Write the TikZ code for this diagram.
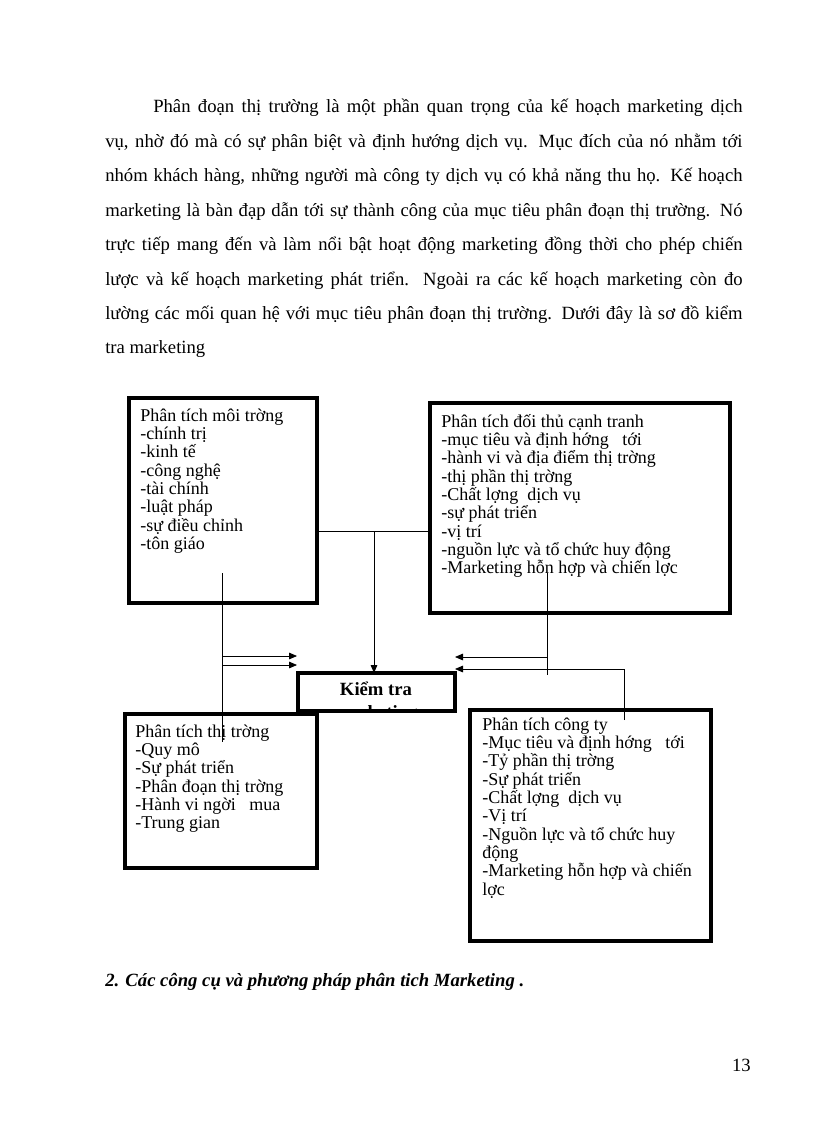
\documentclass[tikz,border=0pt]{standalone}
\usepackage{fontspec}
\setmainfont{Liberation Serif}
\usetikzlibrary{arrows.meta}
\begin{document}
\begin{tikzpicture}[x=0.75pt,y=-0.75pt,
  box/.style={draw,line width=2.3pt,anchor=north west,inner sep=0pt,outer sep=0pt},
  conn/.style={line width=0.6pt},
  arr/.style={conn,-{Triangle[length=6pt,width=5pt]}},
  boxtext/.style={anchor=base west,inner sep=0pt,font=\fontsize{13.5}{13.75}\selectfont},
  body/.style={anchor=base west,inner sep=0pt,font=\fontsize{14}{16}\selectfont}]
\useasboundingbox (0,0) rectangle (816,1123);

% body paragraph
\node[body] (l1) at (153,113) {\makebox[442pt][s]{Phân đoạn thị trường là một phần quan trọng của kế hoạch marketing dịch}};
\node[body] (l2) at (105,147.4) {\makebox[478pt][s]{vụ, nhờ đó mà có sự phân biệt và định hướng dịch vụ. Mục đích của nó nhằm tới}};
\node[body] (l3) at (105,181.8) {\makebox[478pt][s]{nhóm khách hàng, những người mà công ty dịch vụ có khả năng thu họ. Kế hoạch}};
\node[body] (l4) at (105,216.2) {\makebox[478pt][s]{marketing là bàn đạp dẫn tới sự thành công của mục tiêu phân đoạn thị trường. Nó}};
\node[body] (l5) at (105,250.6) {\makebox[478pt][s]{trực tiếp mang đến và làm nổi bật hoạt động marketing đồng thời cho phép chiến}};
\node[body] (l6) at (105,285) {\makebox[478pt][s]{lược và kế hoạch marketing phát triển. Ngoài ra các kế hoạch marketing còn đo}};
\node[body] (l7) at (105,319.4) {\makebox[478pt][s]{lường các mối quan hệ với mục tiêu phân đoạn thị trường. Dưới đây là sơ đồ kiểm}};
\node[body] (l8) at (105,353.8) {tra marketing};

% boxes
\node[box,minimum width=141pt,minimum height=153.75pt] (b1) at (129,398) {};
\node[box,minimum width=225pt,minimum height=157.5pt] (b2) at (430,403) {};
\node[box,minimum width=144pt,minimum height=115.5pt] (b3) at (125,714) {};
\node[box,minimum width=180.75pt,minimum height=173.25pt] (b4) at (470,710) {};

\node[boxtext] (t1) at (140,421) {\parbox[t]{135pt}{Phân tích môi trờng\\-chính trị\\-kinh tế\\-công nghệ\\-tài chính\\-luật pháp\\-sự điều chỉnh\\-tôn giáo}};
\node[boxtext] (t2) at (441,427) {\parbox[t]{215pt}{Phân tích đối thủ cạnh tranh\\-mục tiêu và định hớng\ \ \ tới\\-hành vi và địa điểm thị trờng\\-thị phần thị trờng\\-Chất lợng\ \ dịch vụ\\-sự phát triển\\-vị trí\\-nguồn lực và tổ chức huy động\\-Marketing hỗn hợp và chiến lợc}};
\node[boxtext] (t3) at (135,737) {\parbox[t]{135pt}{Phân tích thị trờng\\-Quy mô\\-Sự phát triển\\-Phân đoạn thị trờng\\-Hành vi ngời\ \ \ mua\\-Trung gian}};
\node[boxtext] (t4) at (482,730) {\parbox[t]{170pt}{Phân tích công ty\\-Mục tiêu và định hớng\ \ \ tới\\-Tỷ phần thị trờng\\-Sự phát triển\\-Chất lợng\ \ dịch vụ\\-Vị trí\\-Nguồn lực và tổ chức huy\\động\\-Marketing hỗn hợp và chiến\\lợc}};

% centre box
\begin{scope}
\clip (298,674) rectangle (455,710);
\node[anchor=base,inner sep=0pt,font=\fontsize{14}{16}\bfseries\selectfont] (mk) at (376,718) {marketing};
\end{scope}
\node[box,minimum width=117.75pt,minimum height=28.5pt] (bc) at (298,673) {};
\node[anchor=base,inner sep=0pt,font=\fontsize{14}{16}\bfseries\selectfont] (kt) at (376,695) {Kiểm tra};

% connectors
\coordinate (v1a) at (222,573);
\coordinate (v1b) at (222,742);
\draw[conn] (v1a) -- (v1b);
\coordinate (h1a) at (222,656);
\coordinate (h1b) at (297,656);
\coordinate (h2a) at (222,665);
\coordinate (h2b) at (297,665);
\draw[arr] (h1a) -- (h1b);
\draw[arr] (h2a) -- (h2b);

\coordinate (j1) at (374,531);
\draw[conn] (j1 -| b1.east) -- (j1 -| b2.west);
\draw[arr] (j1) -- (j1 |- bc.north);

\coordinate (j2) at (547,573);
\coordinate (j2b) at (547,675);
\coordinate (j2m) at (547,657);
\draw[conn] (j2) -- (j2b);
\draw[arr] (j2m) -- (j2m -| bc.east);

\coordinate (j3) at (624,720);
\coordinate (j3t) at (624,669);
\draw[arr] (j3) -- (j3t) -- (j3t -| bc.east);

% heading and page number
\node[body,font=\fontsize{14}{16}\bfseries\itshape\selectfont] (hd) at (105,986) {2. Các công cụ và phương pháp phân tich Marketing .};
\node[anchor=base east,inner sep=0pt,font=\fontsize{14}{16}\selectfont] (pg) at (751,1071) {13};
\end{tikzpicture}
\end{document}
